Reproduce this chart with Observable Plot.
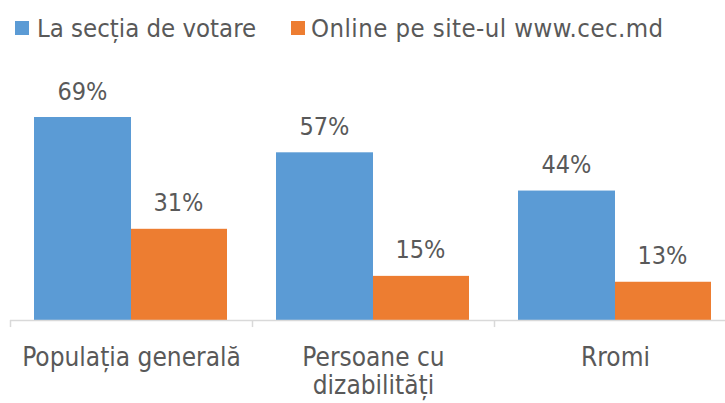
<!DOCTYPE html>
<html><head><meta charset="utf-8">
<script src="https://cdn.jsdelivr.net/npm/d3@7"></script>
<script src="https://cdn.jsdelivr.net/npm/@observablehq/plot@0.6"></script>
<style>
body{margin:0;background:#fff;}
#wrap{width:725px;font-family:"DejaVu Sans Condensed","DejaVu Sans",sans-serif;font-stretch:condensed;color:#595959;}
#legend{position:relative;height:52px;width:725px;font-size:25.5px;line-height:25.5px;}
.sw{position:absolute;width:14px;height:14px;top:21px;}
.lt{position:absolute;top:15.5px;white-space:nowrap;}
svg{display:block;}
</style></head>
<body><div id="wrap"><div id="legend"></div><div id="chart"></div></div>
<script>
const categories = ["Populația generală","Persoane cu dizabilități","Rromi"];
const tickLabels = ["Populația generală","Persoane cu\ndizabilități","Rromi"];
const seriesNames = ["La secția de votare","Online pe site-ul www.cec.md"];
const sectie = [69,57,44];
const online = [31,15,13];
const colors = ["#5B9BD5","#ED7D31"];

const rowsA = categories.map((c,i)=>({cat:c, series:seriesNames[0], v:sectie[i]}));
const rowsB = categories.map((c,i)=>({cat:c, series:seriesNames[1], v:online[i]}));

// legend
const lg = document.getElementById("legend");
const legendPos = [[15,37],[291,311]];
const legendSpacing = ["0px","0.45px"];
seriesNames.forEach((s,i)=>{
  const sw = document.createElement("div"); sw.className="sw";
  sw.style.left = legendPos[i][0]+"px"; sw.style.background = colors[i];
  const t = document.createElement("div"); t.className="lt";
  t.style.left = legendPos[i][1]+"px"; t.style.letterSpacing = legendSpacing[i]; t.textContent = s;
  lg.appendChild(sw); lg.appendChild(t);
});

const font = '"DejaVu Sans Condensed","DejaVu Sans",sans-serif';
const numFont = '"DejaVu Sans",sans-serif';
const chart = Plot.plot({
  width:725, height:351, marginLeft:10, marginRight:0, marginTop:0, marginBottom:0,
  x:{domain:categories, range:[10,736], padding:0, axis:null},
  y:{domain:[0,69], range:[268,65], axis:null},
  color:{domain:seriesNames, range:colors},
  style:{fontFamily:font, fontSize:"24px", color:"#595959", background:"#fff"},
  marks:[
    Plot.barY(rowsA, {x:"cat", y:"v", fill:"series", insetLeft:24, insetRight:121}),
    Plot.barY(rowsB, {x:"cat", y:"v", fill:"series", insetLeft:121, insetRight:25}),
    Plot.text(rowsA, {x:"cat", y:"v", text:d=>d.v+"%", dx:-49, dy:-18, lineAnchor:"bottom", fontSize:25, fontFamily:numFont, fill:"#595959", className:"num"}),
    Plot.text(rowsB, {x:"cat", y:"v", text:d=>d.v+"%", dx:47, dy:-18, lineAnchor:"bottom", fontSize:25, fontFamily:numFont, fill:"#595959", className:"num"}),
    Plot.ruleY([0], {stroke:"#d9d9d9", strokeWidth:1.5}),
    Plot.ruleX(categories, {x:d=>d, dx:-121, y1:0, y2:-2.4, stroke:"#d9d9d9", strokeWidth:1.5}),
    Plot.text(categories, {x:d=>d, y:()=>0, text:tickLabels, lineAnchor:"top", dy:25, fontSize:26, lineHeight:1.1, fill:"#595959", className:"cat"})
  ]
});
chart.querySelectorAll("g.cat text").forEach(t=>t.style.fontStretch="condensed");
document.getElementById("chart").appendChild(chart);
</script></body></html>
